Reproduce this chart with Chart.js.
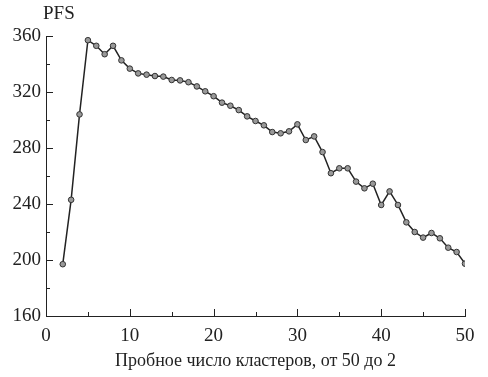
<!DOCTYPE html>
<html>
<head>
<meta charset="utf-8">
<script src="https://cdn.jsdelivr.net/npm/chart.js@4.4.0/dist/chart.umd.min.js"></script>
<style>
  html, body { margin: 0; padding: 0; background: #fff; }
  #wrap { width: 488px; height: 377px; }
</style>
</head>
<body>
<div id="wrap"><canvas id="pfsChart" width="488" height="377"></canvas></div>
<script>
// trial cluster numbers (x) and PFS values
const clusters = [2, 3, 4, 5, 6, 7, 8, 9, 10, 11, 12, 13, 14, 15, 16, 17, 18, 19, 20,
  21, 22, 23, 24, 25, 26, 27, 28, 29, 30, 31, 32, 33, 34, 35, 36, 37, 38, 39, 40,
  41, 42, 43, 44, 45, 46, 47, 48, 49, 50];
const pfsValues = [197, 243, 304, 357, 353, 347, 353, 342.6, 336.7, 333.3, 332.4, 331.4, 331, 328.6, 328.3, 327, 324,
  320.5, 317, 312.4, 310.2, 307.1, 302.6, 299.3, 296.2, 291.4, 290.5, 291.9, 296.9, 285.7, 288.3, 277.1, 262, 265.5,
  265.5, 256, 251.2, 254.5, 239.3, 249, 239.3, 226.9, 220, 216, 219.3, 215.5, 208.8, 205.7, 197.4];
const xTicks = [0, 10, 20, 30, 40, 50];
const yTicks = [160, 200, 240, 280, 320, 360];
const xMinor = [5, 15, 25, 35, 45];
const yMinor = [180, 220, 260, 300, 340];

const fontFam = "'Liberation Serif', 'DejaVu Serif', serif";
const ink = "#222";

// inward tick marks + "PFS" label
const axisDecor = {
  id: "axisDecor",
  afterDraw(chart) {
    const ctx = chart.ctx;
    const xs = chart.scales.x;
    const ys = chart.scales.y;
    const area = chart.chartArea;
    ctx.save();
    ctx.strokeStyle = ink;
    ctx.lineWidth = 1;
    ctx.beginPath();
    xTicks.forEach(v => {
      const px = Math.round(xs.getPixelForValue(v)) + 0.5;
      if (v === 0) return;
      ctx.moveTo(px, area.bottom);
      ctx.lineTo(px, area.bottom - 7);
    });
    xMinor.forEach(v => {
      const px = Math.round(xs.getPixelForValue(v)) + 0.5;
      ctx.moveTo(px, area.bottom);
      ctx.lineTo(px, area.bottom - 4);
    });
    yTicks.forEach(v => {
      const py = Math.round(ys.getPixelForValue(v)) + 0.5;
      if (v === 160) return;
      ctx.moveTo(area.left, py);
      ctx.lineTo(area.left + 7, py);
    });
    yMinor.forEach(v => {
      const py = Math.round(ys.getPixelForValue(v)) + 0.5;
      ctx.moveTo(area.left, py);
      ctx.lineTo(area.left + 4, py);
    });
    ctx.stroke();

    ctx.fillStyle = ink;
    ctx.font = "19px " + fontFam;
    ctx.textBaseline = "middle";
    ctx.textAlign = "left";
    ctx.fillText("PFS", 43, 14);
    ctx.restore();
  },
};

const ctx = document.getElementById("pfsChart").getContext("2d");
const pfsChart = new Chart(ctx, {
  type: "line",
  data: {
    labels: clusters,
    datasets: [
      {
        label: "PFS",
        data: clusters.map((c, i) => ({ x: c, y: pfsValues[i] })),
        borderColor: "#222",
        borderWidth: 1.5,
        pointRadius: 2.8,
        pointBackgroundColor: "#999",
        pointBorderColor: "#333",
        pointBorderWidth: 1,
        tension: 0,
        fill: false,
      },
    ],
  },
  options: {
    responsive: false,
    animation: false,
    layout: { padding: { left: 0, right: 23, top: 36, bottom: 0 } },
    plugins: {
      legend: { display: false },
      tooltip: { enabled: false },
    },
    scales: {
      x: {
        type: "linear",
        min: 0,
        max: 50,
        afterBuildTicks: (s) => { s.ticks = xTicks.map(v => ({ value: v })); },
        afterFit: (s) => { s.height = 61; },
        grid: { display: false, drawTicks: false },
        border: { display: true, color: ink, width: 1 },
        ticks: {
          color: ink,
          padding: 9,
          maxRotation: 0,
          font: { family: fontFam, size: 19 },
        },
        title: {
          display: true,
          text: "Пробное число кластеров, от 50 до 2",
          color: ink,
          font: { family: fontFam, size: 18 },
          padding: { top: 2, bottom: 5 },
        },
      },
      y: {
        min: 160,
        max: 360,
        afterBuildTicks: (s) => { s.ticks = yTicks.map(v => ({ value: v })); },
        afterFit: (s) => { s.width = 46; },
        grid: { display: false, drawTicks: false },
        border: { display: true, color: ink, width: 1 },
        ticks: {
          color: ink,
          padding: 5,
          font: { family: fontFam, size: 19 },
        },
      },
    },
  },
  plugins: [axisDecor],
});
</script>
</body>
</html>
